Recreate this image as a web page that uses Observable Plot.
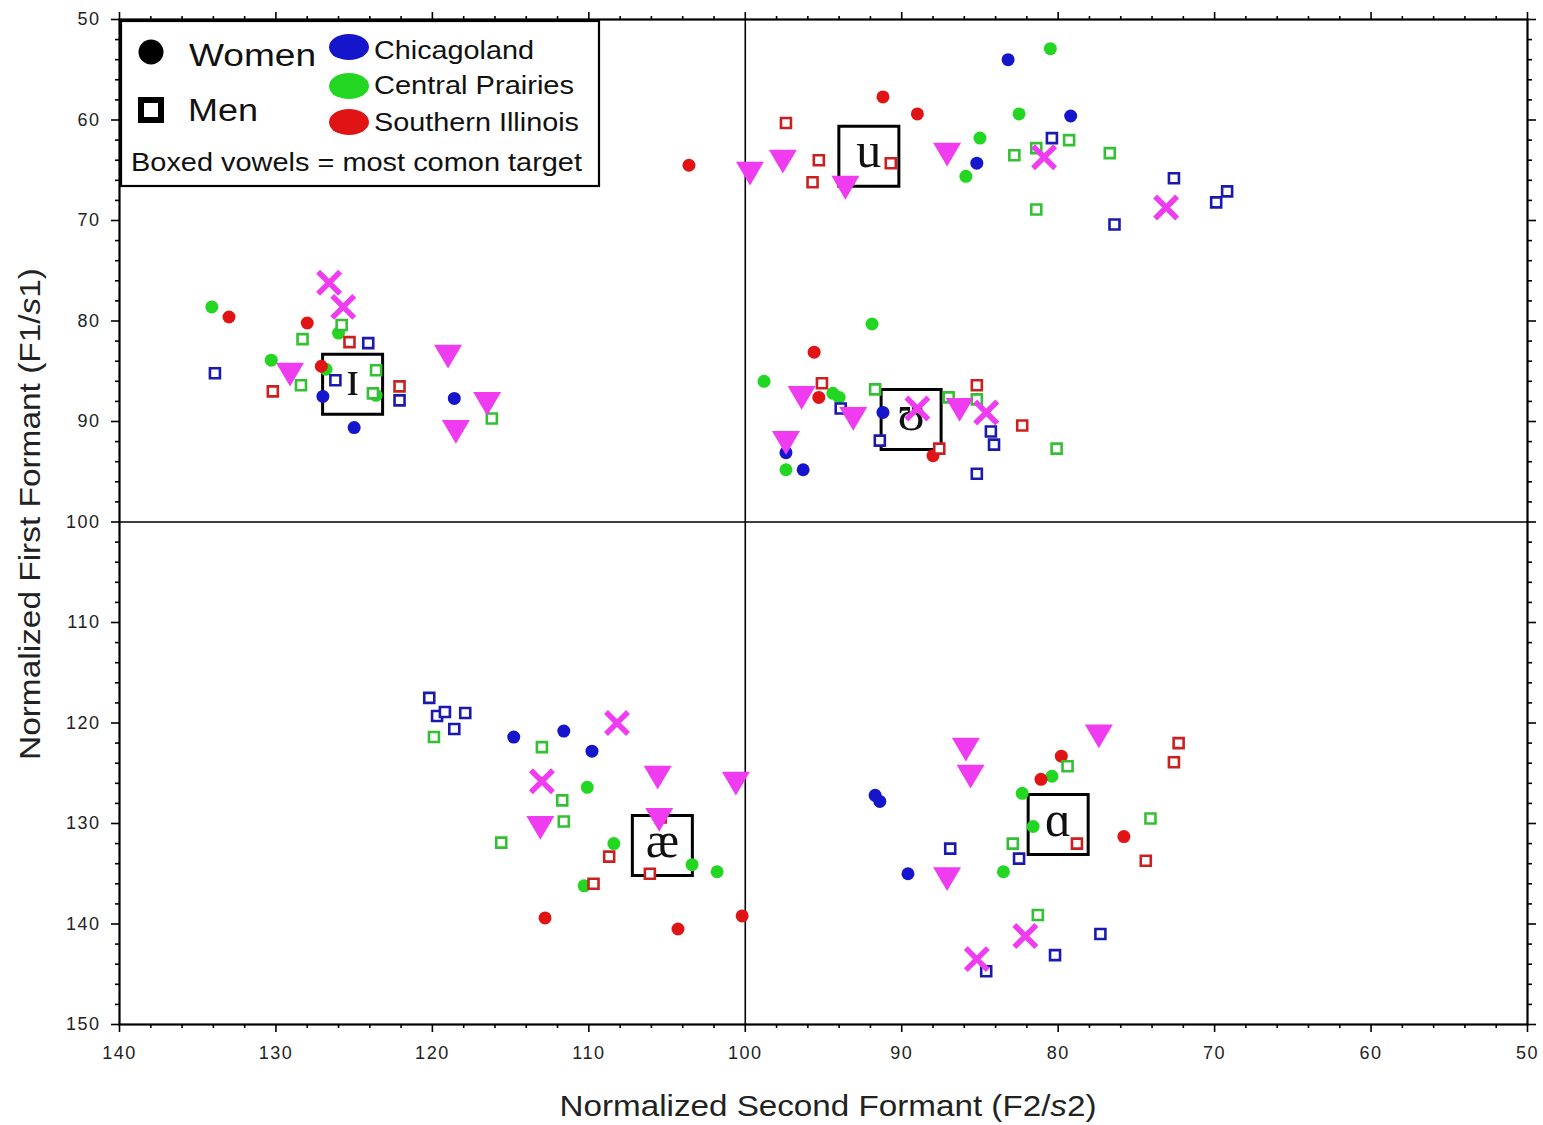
<!DOCTYPE html>
<html><head><meta charset="utf-8">
<script src="https://cdn.jsdelivr.net/npm/d3@7"></script>
<script src="https://cdn.jsdelivr.net/npm/@observablehq/plot@0.6"></script>
<style>body{margin:0;background:#fff} #chart svg{display:block}</style>
</head><body><div id="chart"></div>
<script>
// ---- Data: [F2/s2, F1/s1] pairs ----
const women_chicagoland = [[83.2,54.0],[79.2,59.6],[85.2,64.3],[127.0,87.5],[125.0,90.6],[118.6,87.7],[91.2,89.1],[97.4,93.1],[96.3,94.8],[114.8,121.4],[111.6,120.8],[109.8,122.8],[91.7,127.2],[91.4,127.8],[89.6,135.0]];
const women_central = [[80.5,52.9],[82.5,59.4],[85.0,61.8],[85.9,65.6],[134.1,78.6],[126.0,81.2],[130.3,83.9],[126.8,84.8],[123.6,87.4],[91.9,80.3],[98.8,86.0],[94.4,87.2],[94.0,87.6],[97.4,94.8],[110.1,126.4],[108.4,132.0],[110.3,136.2],[103.4,134.1],[101.8,134.8],[80.4,125.3],[82.3,127.0],[81.6,130.3],[83.5,134.8]];
const women_southern = [[91.2,57.7],[89.0,59.4],[103.6,64.5],[133.0,79.6],[128.0,80.2],[127.1,84.5],[95.6,83.1],[95.3,87.6],[88.0,93.4],[112.8,139.4],[104.3,140.5],[100.2,139.2],[79.8,123.3],[81.1,125.6],[75.8,131.3]];
const men_chicagoland = [[80.4,61.8],[72.6,65.8],[76.4,70.4],[69.9,68.2],[69.2,67.1],[133.9,85.2],[124.1,82.2],[126.2,85.9],[122.1,87.9],[93.9,88.7],[91.4,91.9],[84.3,91.0],[84.1,92.3],[85.2,95.2],[120.2,117.5],[119.7,119.3],[119.2,118.9],[117.9,119.0],[118.6,120.6],[86.9,132.5],[82.5,133.5],[77.3,141.0],[80.2,143.1],[84.6,144.7]];
const men_central = [[82.8,63.5],[81.4,62.8],[79.3,62.0],[76.7,63.3],[81.4,68.9],[128.3,81.8],[125.8,80.4],[128.4,86.4],[123.6,84.9],[123.8,87.2],[116.2,89.7],[91.7,86.8],[87.0,87.6],[85.2,87.8],[80.1,92.7],[119.9,121.4],[113.0,122.4],[111.7,127.7],[111.6,129.8],[115.6,131.9],[82.9,132.0],[79.4,124.3],[74.1,129.5],[81.3,139.1]];
const men_southern = [[97.4,60.3],[95.3,64.0],[95.7,66.2],[90.7,64.3],[130.2,87.0],[125.3,82.1],[122.1,86.5],[95.1,86.2],[87.6,92.7],[85.2,86.4],[82.3,90.4],[108.7,133.3],[109.7,136.0],[106.1,135.0],[105.4,129.4],[78.8,132.0],[72.3,122.0],[72.6,123.9],[74.4,133.7]];
const triangles = [[99.7,65.2],[97.6,64.0],[93.6,66.6],[87.1,63.3],[129.1,85.2],[119.0,83.4],[116.5,88.1],[118.5,90.9],[96.4,87.5],[93.1,89.6],[97.4,92.0],[86.3,88.7],[113.1,130.3],[105.6,125.3],[100.6,125.9],[105.5,129.5],[85.9,122.5],[85.6,125.2],[77.4,121.2],[87.1,135.4]];
const crosses = [[80.9,63.7],[73.1,68.7],[126.6,76.2],[125.7,78.6],[89.0,88.7],[84.6,89.1],[108.2,120.0],[113.0,125.8],[82.1,141.2],[85.2,143.5]];
const targetVowels = ["u","ɪ","ʊ","æ","ɑ"];
const targetF2 = [92.1,125.1,89.4,105.3,80.0];
const targetF1 = [63.6,86.3,89.8,132.2,130.1];
const regions = ["Chicagoland","Central Prairies","Southern Illinois"];
const xMajor = [140,130,120,110,100,90,80,70,60,50];
const yMajor = [50,60,70,80,90,100,110,120,130,140,150];

// ---- Styles ----
const circleColor = {"Chicagoland":"#1515cc","Central Prairies":"#22d622","Southern Illinois":"#e01414"};
const squareColor = {"Chicagoland":"#1a1ab0","Central Prairies":"#34c034","Southern Illinois":"#cc2020"};
const magenta = "#f03cf0";

const women = [];
[women_chicagoland, women_central, women_southern].forEach((arr,i)=>arr.forEach(([x,y])=>women.push({x,y,region:regions[i]})));
const men = [];
[men_chicagoland, men_central, men_southern].forEach((arr,i)=>arr.forEach(([x,y])=>men.push({x,y,region:regions[i]})));
const tri = triangles.map(([x,y])=>({x,y}));
const crs = crosses.map(([x,y])=>({x,y}));
const targets = targetVowels.map((v,i)=>({vowel:v,x:targetF2[i],y:targetF1[i]}));

const xMinor = d3.range(50,141,2).filter(v=>v%10!==0);
const yMinor = d3.range(50,151,2).filter(v=>v%10!==0);

const triDown = {draw(ctx, size){ const r = Math.sqrt(size/Math.PI);
  ctx.moveTo(-r, -0.75*r); ctx.lineTo(r, -0.75*r); ctx.lineTo(0, 0.95*r); ctx.closePath(); }};
const cross = {draw(ctx, size){ const r = Math.sqrt(size/Math.PI);
  ctx.moveTo(-r,-r); ctx.lineTo(r,r); ctx.moveTo(r,-r); ctx.lineTo(-r,r); }};
const boxSym = {draw(ctx, size){ const r = Math.sqrt(size/Math.PI);
  ctx.moveTo(-r,-r); ctx.lineTo(r,-r); ctx.lineTo(r,r); ctx.lineTo(-r,r); ctx.closePath(); }};

const plot = Plot.plot({
  width: 1543, height: 1125,
  marginLeft: 119, marginRight: 16, marginTop: 19, marginBottom: 101,
  style: {fontFamily: "'Liberation Sans', Arial, sans-serif", background: "#fff", color: "#000"},
  x: {domain: [140, 50], label: null},
  y: {domain: [50, 150], reverse: true, label: null},
  marks: [
    Plot.ruleX([100], {stroke: "#000", strokeWidth: 1.6}),
    Plot.ruleY([100], {stroke: "#000", strokeWidth: 1.6}),
    Plot.axisX(xMinor, {anchor: "bottom", tickSize: 4, text: null, strokeWidth: 1.6, label: null}),
    Plot.axisX(xMajor, {anchor: "bottom", tickSize: 8, tickPadding: 14, fontSize: 18, strokeWidth: 1.6, label: null}),
    Plot.axisX(xMinor, {anchor: "top", tickSize: 4, text: null, strokeWidth: 1.6, label: null}),
    Plot.axisX(xMajor, {anchor: "top", tickSize: 8, text: null, strokeWidth: 1.6, label: null}),
    Plot.axisY(yMinor, {anchor: "left", tickSize: 4, text: null, strokeWidth: 1.6, label: null}),
    Plot.axisY(yMajor, {anchor: "left", tickSize: 8, tickPadding: 11, fontSize: 18, strokeWidth: 1.6, label: null}),
    Plot.axisY(yMinor, {anchor: "right", tickSize: 4, text: null, strokeWidth: 1.6, label: null}),
    Plot.axisY(yMajor, {anchor: "right", tickSize: 8, text: null, strokeWidth: 1.6, label: null}),
    Plot.frame({stroke: "#000", strokeWidth: 2.2}),
    Plot.dot(targets, {x: "x", y: "y", symbol: boxSym, r: 30, fill: "none", stroke: "#000", strokeWidth: 3}),
    Plot.text(targets, {x: "x", y: "y", text: "vowel", fontSize: 50, dy: -5, fill: "#111",
      fontFamily: "'Liberation Serif', 'DejaVu Serif', serif"}),
    Plot.dot(women, {x: "x", y: "y", r: 6.5, fill: d => circleColor[d.region], stroke: "none"}),
    Plot.dot(men, {x: "x", y: "y", symbol: boxSym, r: 5, fill: "#fff", stroke: d => squareColor[d.region], strokeWidth: 2.6}),
    Plot.dot(tri, {x: "x", y: "y", symbol: triDown, r: 14, fill: magenta, stroke: "none"}),
    Plot.dot(crs, {x: "x", y: "y", symbol: cross, r: 11, fill: "none", stroke: magenta, strokeWidth: 5.5})
  ]
});

const svg = d3.select(plot);
svg.selectAll('g[aria-label$="tick label"] text').attr("letter-spacing", "1.5px").attr("fill", "#222");

// Axis titles
const xt = svg.append("text").attr("x", 828).attr("y", 1116).attr("text-anchor", "middle")
  .attr("font-family", "'Liberation Sans Narrow', 'Arial Narrow', 'Liberation Sans', sans-serif")
  .attr("font-size", 30).attr("fill", "#222").attr("textLength", 537).attr("lengthAdjust", "spacingAndGlyphs");
xt.append("tspan").text("Normalized Second Formant (F2/");
xt.append("tspan").attr("font-style", "italic").text("s");
xt.append("tspan").text("2)");
const yt = svg.append("text").attr("transform", "translate(40,514) rotate(-90)").attr("text-anchor", "middle")
  .attr("font-family", "'Liberation Sans Narrow', 'Arial Narrow', 'Liberation Sans', sans-serif")
  .attr("font-size", 30).attr("fill", "#222").attr("textLength", 492).attr("lengthAdjust", "spacingAndGlyphs");
yt.append("tspan").text("Normalized First Formant (F1/");
yt.append("tspan").attr("font-style", "italic").text("s");
yt.append("tspan").text("1)");

// Legend
const lg = svg.append("g").attr("font-family", "'Liberation Sans', Arial, sans-serif").attr("fill", "#111")
  .attr("text-anchor", "start");
lg.append("rect").attr("x", 121).attr("y", 21).attr("width", 478).attr("height", 165)
  .attr("fill", "#fff").attr("stroke", "#000").attr("stroke-width", 2.2);
lg.append("circle").attr("cx", 151).attr("cy", 52).attr("r", 12.5).attr("fill", "#000");
lg.append("rect").attr("x", 141).attr("y", 100).attr("width", 20).attr("height", 20)
  .attr("fill", "#fff").attr("stroke", "#000").attr("stroke-width", 6);
lg.append("text").attr("x", 189).attr("y", 66).attr("font-size", 31).attr("textLength", 127).attr("lengthAdjust", "spacingAndGlyphs").text("Women");
lg.append("text").attr("x", 188).attr("y", 121).attr("font-size", 31).attr("textLength", 70).attr("lengthAdjust", "spacingAndGlyphs").text("Men");
const blobs = [["Chicagoland", 47, 59, 160], ["Central Prairies", 86, 94, 200], ["Southern Illinois", 122, 131, 205]];
blobs.forEach(([name, cy, base, len]) => {
  lg.append("ellipse").attr("cx", 349).attr("cy", cy).attr("rx", 20).attr("ry", 13).attr("fill", circleColor[name]);
  lg.append("ellipse").attr("cx", 340).attr("cy", cy + 2).attr("rx", 10).attr("ry", 9).attr("fill", circleColor[name]);
  lg.append("text").attr("x", 374).attr("y", base).attr("font-size", 25).attr("textLength", len).attr("lengthAdjust", "spacingAndGlyphs").text(name);
});
lg.append("text").attr("x", 131).attr("y", 171).attr("font-size", 25).attr("textLength", 451).attr("lengthAdjust", "spacingAndGlyphs").text("Boxed vowels = most comon target");

document.getElementById("chart").appendChild(plot);
</script>
</body></html>
